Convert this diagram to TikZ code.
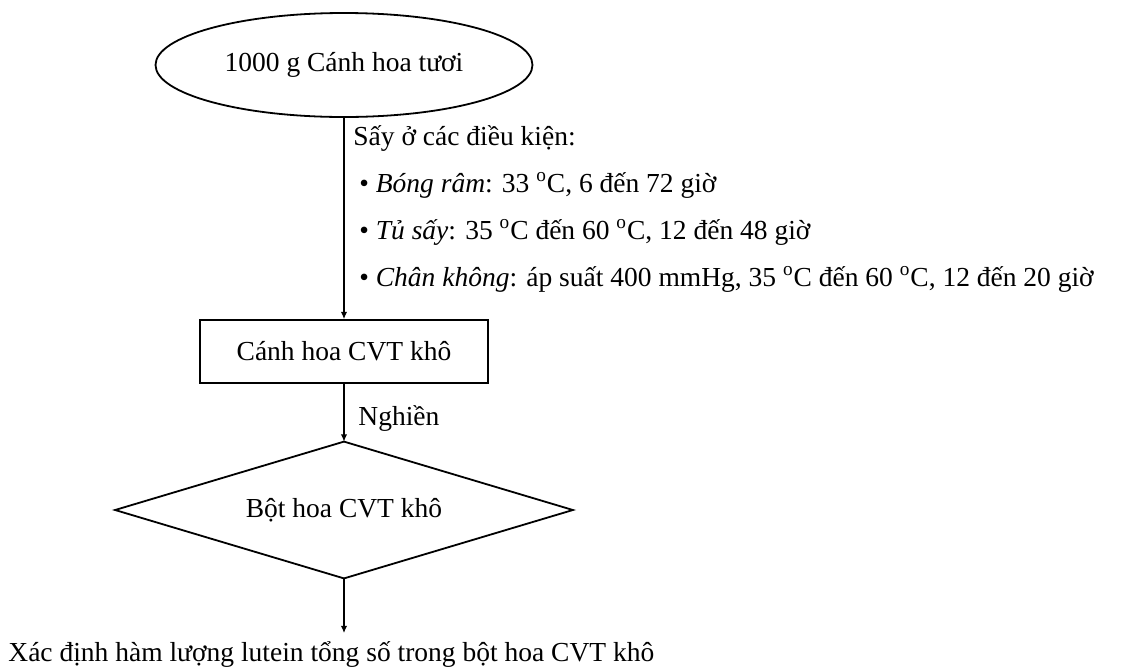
\documentclass[tikz,border=0pt]{standalone}
\usepackage{fontspec}
\setmainfont{Liberation Serif}
\usetikzlibrary{shapes.geometric,arrows.meta}
\begin{document}
\begin{tikzpicture}[x=0.5pt,y=-0.5pt,
  every node/.style={font=\fontsize{13.75}{16}\selectfont, inner sep=0pt},
  shapeline/.style={draw, line width=0.9pt},
  flow/.style={draw, line width=0.6pt, -{Latex[length=3.6pt,width=3.2pt]}},
  txt/.style={anchor=base west}]
\useasboundingbox (0,0) rectangle (1125,670);

% process stages
\node[shapeline, ellipse, minimum width=188.5pt, minimum height=52pt] (fresh) at (344,65) {1000 g Cánh hoa tươi};
\node[shapeline, rectangle, minimum width=144pt, minimum height=31.5pt] (dried) at (344,351.5) {Cánh hoa CVT khô};
\node[rectangle, minimum width=228.5pt, minimum height=68pt] (powder) at (344,510) {Bột hoa CVT khô};
\draw[shapeline, line join=miter] (powder.west) -- (powder.north) -- (powder.east) -- (powder.south) -- cycle;
\node[txt] (result) at (8,661) {Xác định hàm lượng lutein tổng số trong bột hoa CVT khô};
\coordinate (resultin) at (344,633);

% drying conditions
\node[txt] (dry0) at (353,145) {Sấy ở các điều kiện:};
\node[txt] (dry1) at (359,192) {\textbullet\ \textit{Bóng râm}: 33 \textsuperscript{o}C, 6 đến 72 giờ};
\node[txt] (dry2) at (359,239) {\textbullet\ \textit{Tủ sấy}: 35 \textsuperscript{o}C đến 60 \textsuperscript{o}C, 12 đến 48 giờ};
\node[txt] (dry3) at (359,286) {\textbullet\ \textit{Chân không}: áp suất 400 mmHg, 35 \textsuperscript{o}C đến 60 \textsuperscript{o}C, 12 đến 20 giờ};

% grinding step
\node[txt] (grind) at (358,425) {Nghiền};

% connectors
\draw[flow] (fresh.south) -- (dried.north);
\draw[flow] (dried.south) -- (powder.north);
\draw[flow] (powder.south) -- (resultin);
\end{tikzpicture}
\end{document}
